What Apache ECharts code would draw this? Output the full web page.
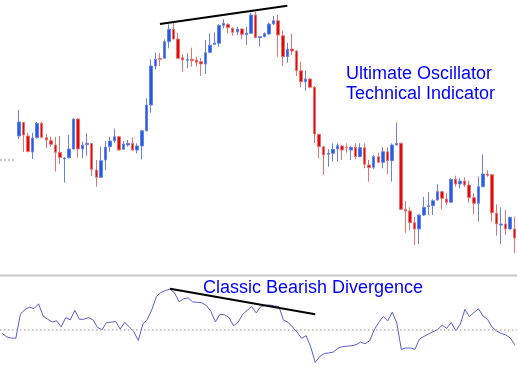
<!DOCTYPE html>
<html>
<head>
<meta charset="utf-8">
<script src="https://cdn.jsdelivr.net/npm/echarts@6/dist/echarts.min.js"></script>
<style>
  html, body { margin: 0; padding: 0; background: #fff; }
  #chart { width: 517px; height: 368px; }
</style>
</head>
<body>
<div id="chart"></div>
<script>
// candle prices (arbitrary units, up = higher)
const opens = [
  164, 177.5, 164, 148, 162.5, 176.7, 162.3, 159.3, 155, 147.5,
  141, 142.3, 151, 181, 151, 155.5, 156.5, 130, 122.7, 140,
  153.3, 159, 163.3, 150.7, 155, 156.7, 150, 154, 169.3, 195,
  234, 241.7, 241.7, 258.3, 270.7, 261, 242.3, 239.7, 240.7, 240,
  238.3, 236, 247.7, 255.7, 256.7, 274.7, 275.7, 271.7, 268, 271,
  265.3, 266.7, 285, 262.3, 263.3, 266, 276, 279.3, 264.3, 243.3,
  251, 249, 229.3, 218.3, 221, 212.7, 165.7, 153.3, 145.7, 146.7,
  151, 154, 152.5, 150, 152.7, 143.3, 152.3, 135, 132.7, 143.3,
  137.7, 148.3, 139.3, 155, 156.7, 90.7, 89, 77.3, 71, 85,
  93.3, 94.3, 100, 108.3, 101, 97.7, 120.7, 116, 119, 115,
  102.3, 96.7, 113.3, 126, 125.3, 86.7, 75, 76, 71, 71
];
const closes = [
  178, 165, 148.5, 162, 176.5, 162.7, 160, 155.7, 147.7, 142.5,
  142, 151, 181, 151, 155, 156.7, 130.7, 122.7, 139.3, 153,
  159, 163.3, 150, 156, 156.7, 150, 154, 169.3, 195, 234,
  240.7, 240.7, 258.3, 270.7, 261, 241.7, 240, 240.7, 239.3, 237.7,
  236, 247.3, 254.7, 257, 274.7, 276.7, 272.3, 267.7, 271, 265.7,
  267, 285, 262.3, 263.3, 266.3, 276, 279.3, 265, 243.3, 250.7,
  249, 229.3, 218.3, 221, 212.7, 166, 153.3, 145, 146.7, 150.7,
  154.3, 150, 152, 152.7, 143.3, 152.3, 135.7, 132.3, 143.3, 137.7,
  148.3, 139.3, 155, 156.7, 90.7, 89, 77.5, 71, 85, 92.7,
  94.3, 99.3, 108.3, 101.7, 97.7, 120.7, 116, 119, 115, 102.3,
  96.7, 113.3, 126, 124.7, 87.3, 76, 76, 71, 82.7, 62
];
const lows = [
  161, 148, 147.5, 141, 161.5, 161.7, 152, 153.3, 128.3, 136,
  117.3, 141.7, 150.7, 142.3, 141.7, 144.3, 124, 113.3, 122, 130,
  148.3, 157.3, 149.5, 150, 153.3, 149.3, 146.7, 140.7, 168.3, 187.3,
  230.7, 234, 241, 251.7, 260.5, 240.7, 228.3, 231.7, 233.3, 233.3,
  224, 226, 246.7, 255, 253.3, 271.7, 266.7, 264.3, 265, 260.7,
  255, 266, 261.7, 253.3, 262.7, 265, 275, 243.3, 234, 237.3,
  245, 224, 212.7, 209.3, 211.7, 157, 141.7, 125, 133.3, 138.3,
  138.3, 140, 147.3, 140, 140.7, 142.7, 131.7, 118.3, 131, 137,
  131.7, 126, 118.3, 154.5, 90, 67.3, 69.5, 55, 56, 84,
  85, 85, 99.3, 90.7, 95, 97, 113.3, 111.7, 113, 97.3,
  85.7, 78.3, 112.7, 123.3, 78.3, 64.3, 56, 65, 70.5, 47
];
const highs = [
  190, 178, 167, 167, 178, 178.3, 166, 163.3, 163, 164,
  143, 165, 181.7, 181.7, 158.3, 166.7, 157, 140, 153.3, 159,
  163.3, 171.5, 164, 159, 160, 162.7, 156.7, 170, 201.7, 240.7,
  247.3, 246.7, 260.7, 275.7, 277.3, 267.3, 245.7, 246.7, 252.3, 243.3,
  242, 260, 266.7, 267.7, 275.7, 280.7, 276.7, 272.7, 273.3, 271.7,
  273.3, 287.3, 288.3, 264, 267.7, 277.3, 284, 285, 269.3, 257.3,
  266, 250, 238.3, 229.3, 221.7, 214, 166, 154, 150.7, 156.7,
  156.7, 155, 156.7, 154, 156.7, 156.7, 156.7, 140, 145, 147.3,
  153.3, 152.7, 156.7, 177.3, 157.3, 99.3, 92.7, 83.3, 85.7, 103.3,
  107.7, 100.7, 115.7, 109, 106.7, 121.7, 124.3, 121.7, 122.7, 119.3,
  106.7, 123.3, 145.7, 130, 126, 95.7, 92.7, 90, 83.3, 83.3
];

// ultimate oscillator, starts 4 bars before the first candle
const oscLead = 4;
const oscillator = [
  47.1, 44.4, 43.4, 43.4,
  62.1, 65.9, 67.7, 66.5, 70.3, 60.8, 58.2, 56.2, 56.9, 52.3,
  59.5, 57.7, 65.2, 58.2, 58.2, 59.5, 57.7, 51.8, 50, 55.7,
  55.9, 56.5, 50.5, 55.7, 52.3, 48.5, 41.5, 54.4, 58.2, 65.9,
  76.2, 79.2, 80.8, 81.8, 78.8, 71.8, 74.4, 74.9, 71.8, 71.5,
  71.1, 69, 64.4, 56.2, 62.1, 61.7, 59.5, 53.1, 55.7, 62.1,
  65.2, 68.2, 63.2, 68.2, 69, 69.4, 68.6, 68.2, 57.5, 55.9,
  52.1, 48.2, 43.2, 45.4, 36.7, 24.4, 29, 31.3, 31.8, 32.5,
  35.5, 36.7, 37.1, 37.5, 38.2, 40.3, 39, 41.3, 49.8, 55.7,
  60.3, 56.9, 63.8, 55.2, 34.6, 35.7, 35.7, 34.6, 42.8, 44.8,
  46.7, 48.5, 50, 53.6, 51.1, 55.7, 49.2, 54.4, 65.9, 60.3,
  63.4, 66.5, 60.8, 58.2, 52.1, 49, 47.1, 45.9, 43.6, 38.2
];

// trend lines: [bar index, value]
const priceTrend = [[31, 276], [59, 294.3]];
const oscTrend = [[33, 82.1], [65, 62.1]];
const priceLevel = 140;
const oscMid = 50;

const bars = opens.map((_, i) => 'Bar ' + (i + 1));
const oscBars = oscillator.map((_, i) => 'Bar ' + (i + 1 - oscLead));
const candles = opens.map((o, i) => [o, closes[i], lows[i], highs[i]]);

const font = '"Liberation Sans", Arial, sans-serif';
const chart = echarts.init(document.getElementById('chart'));

chart.setOption({
  animation: false,
  backgroundColor: '#ffffff',
  grid: [
    { left: 16.7, top: 0, width: 502.7, height: 270 },
    { left: -1.58, top: 278.7, width: 521, height: 91 }
  ],
  xAxis: [
    { type: 'category', data: bars, gridIndex: 0, show: false },
    { type: 'category', data: oscBars, gridIndex: 1, show: false }
  ],
  yAxis: [
    { type: 'value', gridIndex: 0, min: 30, max: 300, show: false },
    { type: 'value', gridIndex: 1, min: 20, max: 90, show: false }
  ],
  series: [
    {
      type: 'candlestick',
      data: candles,
      barWidth: 3,
      itemStyle: {
        color: '#1c5ee8',
        color0: '#e60808',
        borderColor: '#6a82e6',
        borderColor0: '#e67272',
        borderWidth: 1
      },
      markLine: {
        silent: true,
        symbol: ['none', 'none'],
        label: { show: false },
        lineStyle: { color: '#000', width: 2, type: 'solid' },
        data: [[{ coord: priceTrend[0] }, { coord: priceTrend[1] }]]
      }
    },
    {
      type: 'line',
      xAxisIndex: 1,
      yAxisIndex: 1,
      data: oscillator,
      symbol: 'none',
      lineStyle: { color: '#5c5cc8', width: 1 },
      markLine: {
        silent: true,
        symbol: ['none', 'none'],
        label: { show: false },
        lineStyle: { color: '#000', width: 2, type: 'solid' },
        data: [
          { yAxis: oscMid, lineStyle: { color: '#b4b4b4', width: 1.5, type: [1.5, 2.5] } },
          [
            { coord: [oscTrend[0][0] + oscLead, oscTrend[0][1]] },
            { coord: [oscTrend[1][0] + oscLead, oscTrend[1][1]] }
          ]
        ]
      }
    }
  ]
});

const levelY = chart.convertToPixel({ yAxisIndex: 0 }, priceLevel);
chart.setOption({
  graphic: [
    {
      type: 'line',
      shape: { x1: 0, y1: 275.5, x2: 517, y2: 275.5 },
      style: { stroke: '#c8c8c8', lineWidth: 2 }
    },
    {
      type: 'line',
      shape: { x1: 0, y1: levelY, x2: 16, y2: levelY },
      style: { stroke: '#8a8ac8', lineWidth: 1, lineDash: [2, 2] }
    },
    {
      type: 'text', x: 346, y: 74,
      style: { text: 'Ultimate Oscillator', font: '18px ' + font, fill: '#0000ff', verticalAlign: 'middle' }
    },
    {
      type: 'text', x: 346, y: 93.7,
      style: { text: 'Technical Indicator', font: '18px ' + font, fill: '#0000ff', verticalAlign: 'middle' }
    },
    {
      type: 'text', x: 203, y: 288.5,
      style: { text: 'Classic Bearish Divergence', font: '18px ' + font, fill: '#0000ff', verticalAlign: 'middle' }
    }
  ]
});

window.addEventListener('resize', () => chart.resize());
</script>
</body>
</html>
